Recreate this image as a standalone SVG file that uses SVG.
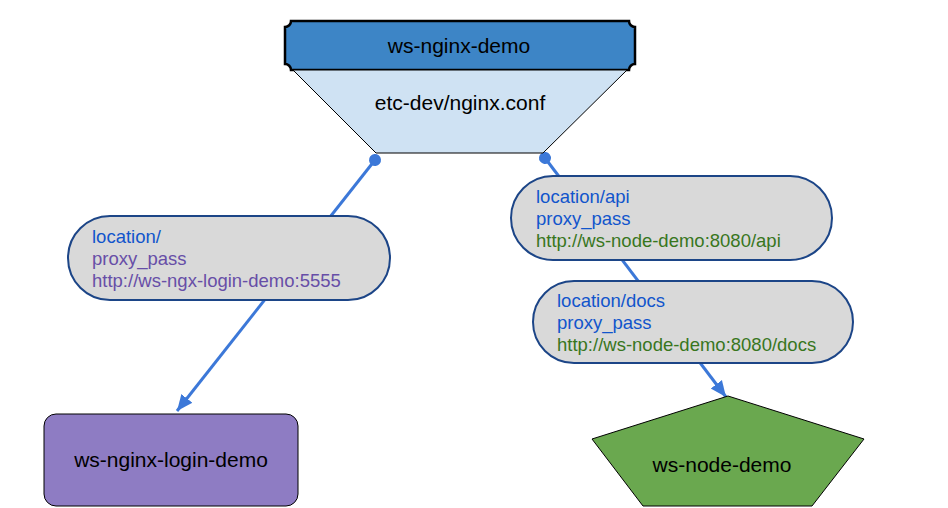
<svg xmlns="http://www.w3.org/2000/svg" width="948" height="508" viewBox="0 0 948 508">
<style>
  .node { font-family: "Liberation Sans", Arial, sans-serif; font-size: 21px; fill: #000; text-anchor: middle; }
  .lbl { font-family: "Liberation Sans", Arial, sans-serif; font-size: 18.5px; }
  .blue { fill: #1155cc; }
  .purple { fill: #674ea7; }
  .green { fill: #38761d; }
  .pill { fill: #d9d9d9; stroke: #1c4587; stroke-width: 2; }
  .conn { stroke: #3c78d8; stroke-width: 3; fill: none; marker-start: url(#dot); marker-end: url(#arrow); }
</style>
<defs>
  <marker id="arrow" markerUnits="userSpaceOnUse" markerWidth="18" markerHeight="16" refX="16" refY="8" orient="auto">
    <path d="M0,1 L16,8 L0,15 Z" fill="#3c78d8"/>
  </marker>
  <marker id="dot" markerUnits="userSpaceOnUse" markerWidth="14" markerHeight="14" refX="7" refY="7" orient="auto">
    <circle cx="7" cy="7" r="6" fill="#3c78d8"/>
  </marker>
</defs>
<rect width="948" height="508" fill="#fff"/>

<g id="connectors">
  <line class="conn" x1="375" y1="160" x2="177" y2="411"/>
  <line class="conn" x1="545" y1="158" x2="726" y2="397"/>
</g>

<g id="ws-nginx-demo">
  <path d="M291,21 L629,21 A6,6 0 0 0 635,27 L635,64 A6,6 0 0 0 629,70 L291,70 A6,6 0 0 0 285,64 L285,27 A6,6 0 0 0 291,21 Z" fill="#3d85c6" stroke="#000" stroke-width="2.5"/>
  <text class="node" x="459" y="53">ws-nginx-demo</text>
</g>

<g id="nginx-conf">
  <path d="M293,70 L627,70 L543,153 L376,153 Z" fill="#cfe2f3" stroke="#000" stroke-width="1"/>
  <text class="node" x="460" y="110">etc-dev/nginx.conf</text>
</g>

<g id="label-root">
  <rect class="pill" x="68" y="216" width="322" height="84" rx="42"/>
  <text class="lbl" x="92" y="243"><tspan class="blue">location/</tspan><tspan class="purple" x="92" dy="22">proxy_pass</tspan><tspan class="purple" x="92" dy="22">http://ws-ngx-login-demo:5555</tspan></text>
</g>

<g id="label-api">
  <rect class="pill" x="511" y="176" width="321" height="84" rx="42"/>
  <text class="lbl" x="536" y="203"><tspan class="blue">location/api</tspan><tspan class="blue" x="536" dy="22">proxy_pass</tspan><tspan class="green" x="536" dy="22">http://ws-node-demo:8080/api</tspan></text>
</g>

<g id="label-docs">
  <rect class="pill" x="533" y="281" width="320" height="82" rx="41"/>
  <text class="lbl" x="557" y="307"><tspan class="blue">location/docs</tspan><tspan class="blue" x="557" dy="22">proxy_pass</tspan><tspan class="green" x="557" dy="22">http://ws-node-demo:8080/docs</tspan></text>
</g>

<g id="ws-nginx-login-demo">
  <rect x="44" y="414" width="254" height="92" rx="12" fill="#8e7cc3" stroke="#000" stroke-width="1"/>
  <text class="node" x="171" y="467">ws-nginx-login-demo</text>
</g>

<g id="ws-node-demo">
  <path d="M728,396 L864,439 L812,506 L643,506 L592,439 Z" fill="#6aa84f" stroke="#000" stroke-width="1"/>
  <text class="node" x="722" y="472">ws-node-demo</text>
</g>
</svg>
